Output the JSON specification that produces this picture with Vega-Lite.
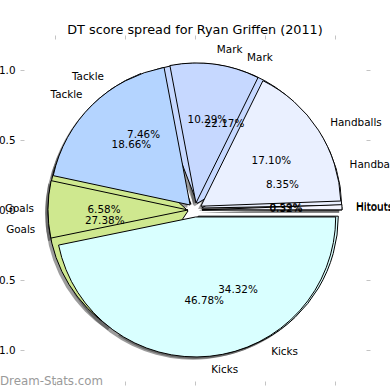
{
  "$schema": "https://vega.github.io/schema/vega-lite/v6.json",
  "width": 350,
  "height": 350,
  "autosize": {"type": "none"},
  "padding": {"left": 20, "top": 35, "right": 20, "bottom": 5},
  "background": "white",
  "title": {"text": "DT score spread for Ryan Griffen (2011)", "font": "DejaVu Sans", "fontSize": 12.8, "fontWeight": "normal", "color": "black", "anchor": "middle", "offset": 1, "dy": 3},
  "config": {"view": {"stroke": null}},
  "data": {"values": [
    {"set": "A", "cat": "Hitouts", "value": 0.0059, "order": 1},
    {"set": "A", "cat": "Handballs", "value": 0.1710, "order": 2},
    {"set": "A", "cat": "Mark", "value": 0.1029, "order": 3},
    {"set": "A", "cat": "Tackle", "value": 0.1866, "order": 4},
    {"set": "A", "cat": "Goals", "value": 0.0658, "order": 5},
    {"set": "A", "cat": "Kicks", "value": 0.4678, "order": 6},
    {"set": "B", "cat": "Hitouts", "value": 0.0032, "order": 1},
    {"set": "B", "cat": "Handballs", "value": 0.0835, "order": 2},
    {"set": "B", "cat": "Mark", "value": 0.2217, "order": 3},
    {"set": "B", "cat": "Tackle", "value": 0.0746, "order": 4},
    {"set": "B", "cat": "Goals", "value": 0.2738, "order": 5},
    {"set": "B", "cat": "Kicks", "value": 0.3432, "order": 6}
  ]},
  "transform": [{"stack": "value", "groupby": ["set"], "sort": [{"field": "order", "order": "ascending"}], "as": ["s0", "s1"]}],
  "resolve": {"axis": {"x": "independent", "y": "independent"}},
  "layer": [
    {"transform": [{"filter": "datum.set=='B'&&datum.cat=='Hitouts'"}], "mark": {"type": "arc", "radius": 140, "color": "#3a3a3a", "opacity": 0.5, "strokeWidth": 1}, "encoding": {"theta": {"field": "s0", "type": "quantitative", "scale": {"type": "linear", "domain": [0, 1], "range": [1.5707963, -4.712389], "zero": false, "nice": false}}, "theta2": {"field": "s1"}, "x": {"datum": 0.0300, "type": "quantitative", "scale": {"domain": [-1.25, 1.25], "nice": false, "zero": false}, "axis": null}, "y": {"datum": -0.0195, "type": "quantitative", "scale": {"domain": [-1.25, 1.25], "nice": false, "zero": false}, "axis": null}}},
    {"transform": [{"filter": "datum.set=='B'&&datum.cat=='Handballs'"}], "mark": {"type": "arc", "radius": 140, "color": "#3a3a3a", "opacity": 0.5, "strokeWidth": 1}, "encoding": {"theta": {"field": "s0", "type": "quantitative"}, "theta2": {"field": "s1"}, "x": {"datum": 0.0280, "type": "quantitative", "axis": null}, "y": {"datum": -0.0061, "type": "quantitative", "axis": null}}},
    {"transform": [{"filter": "datum.set=='B'&&datum.cat=='Mark'"}], "mark": {"type": "arc", "radius": 140, "color": "#3a3a3a", "opacity": 0.5, "strokeWidth": 1}, "encoding": {"theta": {"field": "s0", "type": "quantitative"}, "theta2": {"field": "s1"}, "x": {"datum": -0.0038, "type": "quantitative", "axis": null}, "y": {"datum": 0.0273, "type": "quantitative", "axis": null}}},
    {"transform": [{"filter": "datum.set=='B'&&datum.cat=='Tackle'"}], "mark": {"type": "arc", "radius": 140, "color": "#3a3a3a", "opacity": 0.5, "strokeWidth": 1}, "encoding": {"theta": {"field": "s0", "type": "quantitative"}, "theta2": {"field": "s1"}, "x": {"datum": -0.0483, "type": "quantitative", "axis": null}, "y": {"datum": 0.0212, "type": "quantitative", "axis": null}}},
    {"transform": [{"filter": "datum.set=='B'&&datum.cat=='Goals'"}], "mark": {"type": "arc", "radius": 140, "color": "#3a3a3a", "opacity": 0.5, "strokeWidth": 1}, "encoding": {"theta": {"field": "s0", "type": "quantitative"}, "theta2": {"field": "s1"}, "x": {"datum": -0.0696, "type": "quantitative", "axis": null}, "y": {"datum": -0.0262, "type": "quantitative", "axis": null}}},
    {"transform": [{"filter": "datum.set=='B'&&datum.cat=='Kicks'"}], "mark": {"type": "arc", "radius": 140, "color": "#3a3a3a", "opacity": 0.5, "strokeWidth": 1}, "encoding": {"theta": {"field": "s0", "type": "quantitative"}, "theta2": {"field": "s1"}, "x": {"datum": 0.0036, "type": "quantitative", "axis": null}, "y": {"datum": -0.0641, "type": "quantitative", "axis": null}}},
    {"transform": [{"filter": "datum.set=='A'&&datum.cat=='Hitouts'"}], "mark": {"type": "arc", "radius": 140, "color": "#3a3a3a", "opacity": 0.5, "strokeWidth": 1}, "encoding": {"theta": {"field": "s0", "type": "quantitative"}, "theta2": {"field": "s1"}, "x": {"datum": 0.0300, "type": "quantitative", "axis": null}, "y": {"datum": -0.0191, "type": "quantitative", "axis": null}}},
    {"transform": [{"filter": "datum.set=='A'&&datum.cat=='Handballs'"}], "mark": {"type": "arc", "radius": 140, "color": "#3a3a3a", "opacity": 0.5, "strokeWidth": 1}, "encoding": {"theta": {"field": "s0", "type": "quantitative"}, "theta2": {"field": "s1"}, "x": {"datum": 0.0220, "type": "quantitative", "axis": null}, "y": {"datum": 0.0072, "type": "quantitative", "axis": null}}},
    {"transform": [{"filter": "datum.set=='A'&&datum.cat=='Mark'"}], "mark": {"type": "arc", "radius": 140, "color": "#3a3a3a", "opacity": 0.5, "strokeWidth": 1}, "encoding": {"theta": {"field": "s0", "type": "quantitative"}, "theta2": {"field": "s1"}, "x": {"datum": -0.0132, "type": "quantitative", "axis": null}, "y": {"datum": 0.0295, "type": "quantitative", "axis": null}}},
    {"transform": [{"filter": "datum.set=='A'&&datum.cat=='Tackle'"}], "mark": {"type": "arc", "radius": 140, "color": "#3a3a3a", "opacity": 0.5, "strokeWidth": 1}, "encoding": {"theta": {"field": "s0", "type": "quantitative"}, "theta2": {"field": "s1"}, "x": {"datum": -0.0549, "type": "quantitative", "axis": null}, "y": {"datum": 0.0158, "type": "quantitative", "axis": null}}},
    {"transform": [{"filter": "datum.set=='A'&&datum.cat=='Goals'"}], "mark": {"type": "arc", "radius": 140, "color": "#3a3a3a", "opacity": 0.5, "strokeWidth": 1}, "encoding": {"theta": {"field": "s0", "type": "quantitative"}, "theta2": {"field": "s1"}, "x": {"datum": -0.0700, "type": "quantitative", "axis": null}, "y": {"datum": -0.0198, "type": "quantitative", "axis": null}}},
    {"transform": [{"filter": "datum.set=='A'&&datum.cat=='Kicks'"}], "mark": {"type": "arc", "radius": 140, "color": "#3a3a3a", "opacity": 0.5, "strokeWidth": 1}, "encoding": {"theta": {"field": "s0", "type": "quantitative"}, "theta2": {"field": "s1"}, "x": {"datum": -0.0149, "type": "quantitative", "axis": null}, "y": {"datum": -0.0697, "type": "quantitative", "axis": null}}},

    {"transform": [{"filter": "datum.set=='B'&&datum.cat=='Hitouts'"}], "mark": {"type": "arc", "radius": 140, "stroke": "black", "strokeWidth": 1}, "encoding": {"theta": {"field": "s0", "type": "quantitative"}, "theta2": {"field": "s1"}, "x": {"datum": 0.0500, "type": "quantitative", "axis": null}, "y": {"datum": 0.0005, "type": "quantitative", "axis": null}, "color": {"field": "cat", "type": "nominal", "scale": {"domain": ["Hitouts", "Handballs", "Mark", "Tackle", "Goals", "Kicks"], "range": ["#f4f6ff", "#eaf0ff", "#c6d8ff", "#b4d4ff", "#cfe88f", "#d9ffff"]}, "legend": null}}},
    {"transform": [{"filter": "datum.set=='B'&&datum.cat=='Handballs'"}], "mark": {"type": "arc", "radius": 140, "stroke": "black", "strokeWidth": 1}, "encoding": {"theta": {"field": "s0", "type": "quantitative"}, "theta2": {"field": "s1"}, "x": {"datum": 0.0480, "type": "quantitative", "axis": null}, "y": {"datum": 0.0139, "type": "quantitative", "axis": null}, "color": {"field": "cat", "type": "nominal", "legend": null}}},
    {"transform": [{"filter": "datum.set=='B'&&datum.cat=='Mark'"}], "mark": {"type": "arc", "radius": 140, "stroke": "black", "strokeWidth": 1}, "encoding": {"theta": {"field": "s0", "type": "quantitative"}, "theta2": {"field": "s1"}, "x": {"datum": 0.0162, "type": "quantitative", "axis": null}, "y": {"datum": 0.0473, "type": "quantitative", "axis": null}, "color": {"field": "cat", "type": "nominal", "legend": null}}},
    {"transform": [{"filter": "datum.set=='B'&&datum.cat=='Tackle'"}], "mark": {"type": "arc", "radius": 140, "stroke": "black", "strokeWidth": 1}, "encoding": {"theta": {"field": "s0", "type": "quantitative"}, "theta2": {"field": "s1"}, "x": {"datum": -0.0283, "type": "quantitative", "axis": null}, "y": {"datum": 0.0412, "type": "quantitative", "axis": null}, "color": {"field": "cat", "type": "nominal", "legend": null}}},
    {"transform": [{"filter": "datum.set=='B'&&datum.cat=='Goals'"}], "mark": {"type": "arc", "radius": 140, "stroke": "black", "strokeWidth": 1}, "encoding": {"theta": {"field": "s0", "type": "quantitative"}, "theta2": {"field": "s1"}, "x": {"datum": -0.0496, "type": "quantitative", "axis": null}, "y": {"datum": -0.0062, "type": "quantitative", "axis": null}, "color": {"field": "cat", "type": "nominal", "legend": null}}},
    {"transform": [{"filter": "datum.set=='B'&&datum.cat=='Kicks'"}], "mark": {"type": "arc", "radius": 140, "stroke": "black", "strokeWidth": 1}, "encoding": {"theta": {"field": "s0", "type": "quantitative"}, "theta2": {"field": "s1"}, "x": {"datum": 0.0236, "type": "quantitative", "axis": null}, "y": {"datum": -0.0441, "type": "quantitative", "axis": null}, "color": {"field": "cat", "type": "nominal", "legend": null}}},

    {"transform": [{"filter": "datum.set=='A'&&datum.cat=='Hitouts'"}], "mark": {"type": "arc", "radius": 140, "stroke": "black", "strokeWidth": 1}, "encoding": {"theta": {"field": "s0", "type": "quantitative"}, "theta2": {"field": "s1"}, "x": {"datum": 0.0500, "type": "quantitative", "axis": null}, "y": {"datum": 0.0009, "type": "quantitative", "axis": null}, "color": {"field": "cat", "type": "nominal", "legend": null}}},
    {"transform": [{"filter": "datum.set=='A'&&datum.cat=='Handballs'"}], "mark": {"type": "arc", "radius": 140, "stroke": "black", "strokeWidth": 1}, "encoding": {"theta": {"field": "s0", "type": "quantitative"}, "theta2": {"field": "s1"}, "x": {"datum": 0.0420, "type": "quantitative", "axis": null}, "y": {"datum": 0.0272, "type": "quantitative", "axis": null}, "color": {"field": "cat", "type": "nominal", "legend": null}}},
    {"transform": [{"filter": "datum.set=='A'&&datum.cat=='Mark'"}], "mark": {"type": "arc", "radius": 140, "stroke": "black", "strokeWidth": 1}, "encoding": {"theta": {"field": "s0", "type": "quantitative"}, "theta2": {"field": "s1"}, "x": {"datum": 0.0068, "type": "quantitative", "axis": null}, "y": {"datum": 0.0495, "type": "quantitative", "axis": null}, "color": {"field": "cat", "type": "nominal", "legend": null}}},
    {"transform": [{"filter": "datum.set=='A'&&datum.cat=='Tackle'"}], "mark": {"type": "arc", "radius": 140, "stroke": "black", "strokeWidth": 1}, "encoding": {"theta": {"field": "s0", "type": "quantitative"}, "theta2": {"field": "s1"}, "x": {"datum": -0.0349, "type": "quantitative", "axis": null}, "y": {"datum": 0.0358, "type": "quantitative", "axis": null}, "color": {"field": "cat", "type": "nominal", "legend": null}}},
    {"transform": [{"filter": "datum.set=='A'&&datum.cat=='Goals'"}], "mark": {"type": "arc", "radius": 140, "stroke": "black", "strokeWidth": 1}, "encoding": {"theta": {"field": "s0", "type": "quantitative"}, "theta2": {"field": "s1"}, "x": {"datum": -0.0500, "type": "quantitative", "axis": null}, "y": {"datum": 0.0002, "type": "quantitative", "axis": null}, "color": {"field": "cat", "type": "nominal", "legend": null}}},
    {"transform": [{"filter": "datum.set=='A'&&datum.cat=='Kicks'"}], "mark": {"type": "arc", "radius": 140, "stroke": "black", "strokeWidth": 1}, "encoding": {"theta": {"field": "s0", "type": "quantitative"}, "theta2": {"field": "s1"}, "x": {"datum": 0.0051, "type": "quantitative", "axis": null}, "y": {"datum": -0.0497, "type": "quantitative", "axis": null}, "color": {"field": "cat", "type": "nominal", "legend": null}}},

    {"transform": [{"filter": "datum.set=='B'"}], "mark": {"type": "text", "radius": 161, "align": "left", "baseline": "middle", "font": "DejaVu Sans", "fontSize": 10.4, "color": "black"}, "encoding": {"theta": {"field": "value", "type": "quantitative", "stack": true}, "order": {"field": "order", "type": "quantitative"}, "text": {"field": "cat", "type": "nominal", "condition": {"test": "datum.cat=='Tackle'||datum.cat=='Goals'", "value": ""}}}},
    {"transform": [{"filter": "datum.set=='B'"}], "mark": {"type": "text", "radius": 161, "align": "right", "baseline": "middle", "font": "DejaVu Sans", "fontSize": 10.4, "color": "black"}, "encoding": {"theta": {"field": "value", "type": "quantitative", "stack": true}, "order": {"field": "order", "type": "quantitative"}, "text": {"field": "cat", "type": "nominal", "condition": {"test": "datum.cat!='Tackle'&&datum.cat!='Goals'", "value": ""}}}},
    {"transform": [{"filter": "datum.set=='B'"}], "mark": {"type": "text", "radius": 91, "align": "center", "baseline": "middle", "font": "DejaVu Sans", "fontSize": 10.4, "color": "black"}, "encoding": {"theta": {"field": "value", "type": "quantitative", "stack": true}, "order": {"field": "order", "type": "quantitative"}, "text": {"field": "value", "type": "quantitative", "format": ".2%"}}},
    {"transform": [{"filter": "datum.set=='A'"}], "mark": {"type": "text", "radius": 161, "align": "left", "baseline": "middle", "font": "DejaVu Sans", "fontSize": 10.4, "color": "black"}, "encoding": {"theta": {"field": "value", "type": "quantitative", "stack": true}, "order": {"field": "order", "type": "quantitative"}, "text": {"field": "cat", "type": "nominal", "condition": {"test": "datum.cat=='Tackle'||datum.cat=='Goals'", "value": ""}}}},
    {"transform": [{"filter": "datum.set=='A'"}], "mark": {"type": "text", "radius": 161, "align": "right", "baseline": "middle", "font": "DejaVu Sans", "fontSize": 10.4, "color": "black"}, "encoding": {"theta": {"field": "value", "type": "quantitative", "stack": true}, "order": {"field": "order", "type": "quantitative"}, "text": {"field": "cat", "type": "nominal", "condition": {"test": "datum.cat!='Tackle'&&datum.cat!='Goals'", "value": ""}}}},
    {"transform": [{"filter": "datum.set=='A'"}], "mark": {"type": "text", "radius": 91, "align": "center", "baseline": "middle", "font": "DejaVu Sans", "fontSize": 10.4, "color": "black"}, "encoding": {"theta": {"field": "value", "type": "quantitative", "stack": true}, "order": {"field": "order", "type": "quantitative"}, "text": {"field": "value", "type": "quantitative", "format": ".2%"}}},

    {"transform": [{"filter": "datum.set=='A'&&datum.cat=='Kicks'"}], "mark": {"type": "text", "align": "left", "baseline": "alphabetic", "font": "DejaVu Sans", "fontSize": 11.8, "color": "#9a9a9a", "text": "Dream-Stats.com"}, "encoding": {"x": {"datum": -1.393, "type": "quantitative", "axis": {"orient": "bottom", "values": [-1, -0.5, 0, 0.5, 1], "format": ".1f", "domain": false, "grid": false, "tickSize": 4, "tickColor": "#c4c4c4", "offset": -4, "labelPadding": 4, "labelFont": "DejaVu Sans", "labelFontSize": 10.4, "labelColor": "black", "labelFlush": false, "labelOverlap": false, "title": null}}, "y": {"datum": -1.25, "type": "quantitative", "axis": {"orient": "left", "values": [-1, -0.5, 0, 0.5, 1], "format": ".1f", "domain": false, "grid": false, "tickSize": 4, "tickColor": "#c4c4c4", "offset": -4, "labelPadding": 5, "labelFont": "DejaVu Sans", "labelFontSize": 10.4, "labelColor": "black", "labelFlush": false, "labelOverlap": false, "title": null}}}},
    {"transform": [{"filter": "datum.set=='A'&&datum.cat=='Kicks'"}], "mark": {"type": "text", "text": ""}, "encoding": {"x": {"datum": 0, "type": "quantitative", "axis": {"orient": "top", "values": [-1, -0.5, 0, 0.5, 1], "domain": false, "grid": false, "labels": false, "tickSize": 4, "tickColor": "#c4c4c4", "offset": -4, "title": null}}, "y": {"datum": 0, "type": "quantitative", "axis": {"orient": "right", "values": [-1, -0.5, 0, 0.5, 1], "domain": false, "grid": false, "labels": false, "tickSize": 4, "tickColor": "#c4c4c4", "offset": -4, "title": null}}}}
  ]
}
